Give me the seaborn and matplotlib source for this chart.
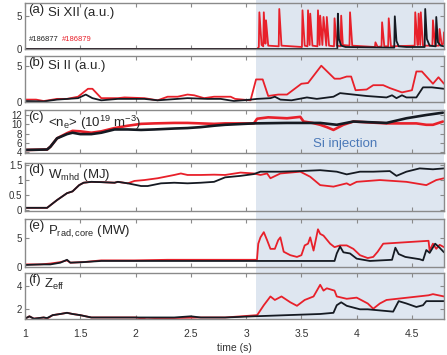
import matplotlib
matplotlib.use("Agg")
import matplotlib.pyplot as plt
import matplotlib.transforms as mtransforms
from matplotlib.patches import Rectangle
import seaborn as sns

# --------------------------------------------------
# Data
# --------------------------------------------------
shot_black = "#186877"
shot_red = "#186879"
t_start_si = 3.09
t_min, t_max = 1.0, 4.79

# (a) Si XII
a_red_t = [1.00, 3.10, 3.115, 3.12, 3.14, 3.155, 3.16, 3.175, 3.18, 3.20, 3.295, 3.30, 3.32,
           3.505, 3.51, 3.53, 3.555, 3.56, 3.575, 3.58, 3.60, 3.645, 3.65, 3.665, 3.67, 3.69,
           3.70, 3.725, 3.73, 3.75, 3.795, 3.80, 3.82, 3.855, 3.86, 3.875, 3.935, 3.94, 3.96,
           4.165, 4.17, 4.19, 4.225, 4.23, 4.25, 4.285, 4.29, 4.31, 4.525, 4.53, 4.55, 4.555,
           4.56, 4.575, 4.58, 4.60, 4.685, 4.69, 4.71, 4.745, 4.75, 4.77, 4.785, 4.79]
a_red_v = [0.0, 0.0, 0.3, 5.5, 0.6, 0.4, 5.5, 0.8, 4.3, 0.5, 0.4, 6.0, 0.5,
           0.3, 5.8, 0.5, 0.4, 5.8, 0.6, 5.3, 0.5, 0.4, 5.8, 0.6, 5.0, 0.6,
           4.8, 0.5, 4.8, 0.5, 0.4, 4.6, 0.5, 0.4, 5.0, 0.6, 0.5, 5.5, 0.5,
           0.3, 1.0, 0.3, 0.4, 4.0, 0.4, 0.4, 4.6, 0.4, 0.5, 5.5, 0.6, 0.6,
           5.3, 0.6, 5.5, 0.5, 0.5, 4.3, 0.5, 0.5, 3.0, 0.6, 0.8, 2.5]
a_blk_t = [1.00, 3.825, 3.83, 3.84, 3.86, 3.90, 4.34, 4.345, 4.36, 4.38, 4.45, 4.615,
           4.62, 4.635, 4.66, 4.715, 4.72, 4.735, 4.76, 4.79]
a_blk_v = [0.0, 0.0, 5.3, 1.5, 0.5, 0.3, 0.2, 4.9, 1.2, 0.4, 0.3, 0.3,
           6.0, 1.5, 0.5, 0.4, 4.8, 1.0, 0.5, 0.4]

# (b) Si II
b_red_t = [1.00, 1.10, 1.17, 1.29, 1.38, 1.48, 1.57, 1.61, 1.69, 1.84, 1.90, 2.08, 2.20,
           2.29, 2.38, 2.47, 2.53, 2.62, 2.71, 2.77, 2.86, 2.90, 3.04, 3.09, 3.15, 3.20,
           3.29, 3.37, 3.50, 3.56, 3.68, 3.80, 3.85, 3.91, 3.95, 3.99, 4.09, 4.15, 4.24,
           4.30, 4.41, 4.50, 4.54, 4.59, 4.69, 4.74, 4.79]
b_red_v = [0.3, 0.3, 0.1, 0.4, 0.4, 0.7, 1.8, 1.8, 0.5, 0.5, 0.6, 0.5, 0.2,
           0.7, 0.7, 1.0, 0.9, 0.5, 0.7, 0.7, 0.7, 0.4, 0.2, 3.1, 3.1, 0.8,
           1.0, 1.0, 2.5, 2.6, 5.0, 3.2, 3.2, 3.5, 3.5, 1.6, 1.7, 2.3, 2.3,
           1.9, 1.3, 1.6, 4.2, 4.2, 2.5, 3.4, 2.5]
b_blk_t = [1.00, 1.17, 1.29, 1.48, 1.55, 1.61, 1.69, 1.84, 1.93, 2.08, 2.20, 2.29, 2.47,
           2.65, 2.77, 2.89, 3.04, 3.10, 3.22, 3.26, 3.31, 3.41, 3.55, 3.64, 3.79, 3.85,
           3.97, 4.09, 4.27, 4.32, 4.36, 4.41, 4.45, 4.54, 4.60, 4.68, 4.79]
b_blk_v = [0.1, 0.05, 0.3, 0.5, 1.0, 0.5, 0.2, 0.4, 0.4, 0.4, 0.2, 0.3, 0.5,
           0.4, 0.4, 0.1, 0.3, 0.4, 0.5, 0.7, 0.3, 0.2, 0.6, 0.4, 0.7, 1.2,
           1.0, 0.8, 0.6, 0.9, 0.5, 0.9, 0.6, 0.6, 2.0, 2.0, 1.8]

# (c) line averaged density
c_red_t = [1.00, 1.20, 1.23, 1.29, 1.38, 1.43, 1.50, 1.60, 1.69, 1.81, 1.93, 2.05, 2.17,
           2.35, 2.47, 2.59, 2.71, 2.81, 3.07, 3.10, 3.20, 3.37, 3.49, 3.52, 3.60, 3.67,
           3.73, 3.79, 3.88, 3.97, 4.12, 4.27, 4.45, 4.54, 4.63, 4.69, 4.78]
c_red_v = [4.5, 4.6, 5.2, 7.0, 8.1, 8.6, 8.5, 8.2, 8.5, 9.2, 9.7, 10.1, 10.2,
           10.3, 10.3, 10.2, 10.1, 10.2, 10.2, 11.2, 11.5, 11.3, 11.6, 10.6, 10.3, 9.9,
           9.4, 8.8, 9.9, 10.6, 10.4, 10.2, 10.2, 10.2, 9.9, 9.9, 10.6]
c_blk_t = [1.00, 1.20, 1.23, 1.29, 1.38, 1.43, 1.50, 1.60, 1.69, 1.81, 1.93, 2.05, 2.17,
           2.35, 2.47, 2.59, 2.71, 2.81, 3.07, 3.37, 3.67, 3.82, 3.97, 4.27, 4.45, 4.63, 4.78]
c_blk_v = [4.5, 4.6, 5.2, 7.0, 7.9, 8.2, 7.9, 7.9, 8.2, 8.9, 8.9, 8.8, 8.9,
           9.1, 9.2, 9.4, 9.7, 9.9, 10.2, 10.3, 10.3, 9.9, 10.6, 10.3, 11.3, 12.0, 12.5]

# (d) W_mhd
d_red_t = [1.00, 1.20, 1.29, 1.38, 1.43, 1.49, 1.53, 1.60, 1.69, 1.81, 1.84, 1.93, 1.99,
           2.08, 2.20, 2.35, 2.41, 2.47, 2.59, 2.71, 2.81, 2.95, 3.07, 3.13, 3.19, 3.22,
           3.31, 3.49, 3.58, 3.67, 3.79, 3.91, 3.94, 4.00, 4.21, 4.45, 4.63, 4.72, 4.79]
d_red_v = [0.07, 0.07, 0.33, 0.56, 0.62, 0.83, 0.91, 0.94, 0.93, 0.91, 0.94, 0.89, 0.97,
           1.00, 1.06, 1.17, 1.22, 1.17, 1.17, 1.18, 1.17, 1.25, 1.22, 1.17, 1.22, 1.06,
           1.22, 1.28, 1.11, 0.83, 0.78, 0.89, 0.83, 0.94, 1.00, 0.94, 0.83, 1.00, 1.06]
d_blk_t = [1.00, 1.20, 1.29, 1.38, 1.43, 1.49, 1.53, 1.60, 1.69, 1.81, 1.84, 1.93, 2.05,
           2.11, 2.23, 2.35, 2.47, 2.59, 2.71, 2.81, 2.95, 3.07, 3.13, 3.31, 3.49, 3.67,
           3.82, 3.91, 4.03, 4.15, 4.30, 4.36, 4.45, 4.57, 4.69, 4.79]
d_blk_v = [0.07, 0.07, 0.33, 0.56, 0.62, 0.83, 0.91, 0.94, 0.93, 0.91, 0.94, 0.89, 0.80,
           0.80, 0.89, 0.91, 0.89, 0.91, 0.94, 1.09, 1.14, 1.20, 1.28, 1.28, 1.30, 1.33,
           1.28, 1.19, 1.28, 1.28, 1.30, 1.14, 1.28, 1.39, 1.36, 1.39]

# (e) P_rad,core
e_red_t = [1.00, 1.14, 1.23, 1.32, 1.38, 1.41, 1.53, 1.69, 1.99, 2.29, 2.59, 3.098,
           3.11, 3.13, 3.16, 3.19, 3.22, 3.26, 3.29, 3.31, 3.34, 3.40, 3.46, 3.50,
           3.53, 3.56, 3.58, 3.61, 3.65, 3.67, 3.70, 3.76, 3.80, 3.85, 3.91, 3.97,
           4.03, 4.10, 4.15, 4.19, 4.24, 4.65, 4.66, 4.69, 4.72, 4.75, 4.79]
e_red_v = [0.4, 0.4, 0.55, 0.8, 1.1, 0.7, 0.8, 1.1, 1.1, 1.2, 1.2, 1.2,
           4.0, 5.1, 6.0, 4.6, 3.1, 3.1, 4.6, 5.1, 2.6, 2.0, 1.7, 2.0,
           3.7, 4.0, 5.1, 2.8, 6.5, 5.7, 5.4, 4.0, 3.4, 3.7, 3.7, 3.1,
           2.0, 1.5, 1.7, 2.6, 4.0, 4.5, 2.8, 4.0, 3.1, 3.8, 3.4]
e_blk_t = [1.00, 1.14, 1.23, 1.32, 1.38, 1.41, 1.53, 1.69, 1.99, 2.29, 2.59, 3.10,
           3.50, 3.80, 3.82, 3.85, 3.88, 3.94, 4.00, 4.12, 4.32, 4.35, 4.38, 4.44,
           4.57, 4.60, 4.63, 4.66, 4.71, 4.75, 4.79]
e_blk_v = [0.3, 0.4, 0.4, 0.7, 1.2, 0.7, 0.8, 1.0, 1.0, 1.0, 1.0, 1.0,
           1.0, 1.0, 2.3, 3.5, 2.5, 2.3, 1.4, 1.0, 1.2, 3.3, 2.2, 1.7,
           1.3, 1.1, 2.9, 2.4, 4.0, 3.3, 2.5]

# (f) Z_eff
f_red_t = [1.00, 1.04, 1.08, 1.17, 1.20, 1.25, 1.32, 1.38, 1.43, 1.50, 1.60, 1.84, 2.00,
           2.10, 2.35, 2.59, 2.81, 3.10, 3.16, 3.22, 3.26, 3.32, 3.40, 3.46, 3.53, 3.61,
           3.67, 3.70, 3.73, 3.80, 3.82, 3.91, 4.00, 4.10, 4.15, 4.21, 4.27, 4.65, 4.69, 4.79]
f_red_v = [1.2, 1.4, 1.2, 1.3, 1.2, 1.5, 1.6, 1.7, 1.6, 1.5, 1.3, 1.3, 1.3,
           1.15, 1.25, 1.3, 1.3, 1.5, 2.35, 3.1, 2.8, 3.1, 2.6, 2.3, 2.8, 3.1,
           4.1, 3.6, 3.8, 3.6, 3.1, 2.9, 3.0, 2.5, 2.05, 2.5, 2.8, 3.2, 3.3, 3.1]
f_blk_t = [1.00, 1.04, 1.08, 1.17, 1.20, 1.25, 1.32, 1.38, 1.43, 1.50, 1.60, 2.00, 2.35,
           2.50, 2.59, 2.81, 3.07, 3.37, 3.67, 3.79, 3.82, 3.86, 3.91, 4.03, 4.10, 4.33,
           4.38, 4.45, 4.54, 4.60, 4.63, 4.79]
f_blk_v = [1.2, 1.4, 1.2, 1.3, 1.25, 1.5, 1.6, 1.7, 1.6, 1.5, 1.3, 1.3, 1.3,
           1.4, 1.3, 1.3, 1.4, 1.5, 1.6, 1.7, 2.35, 2.6, 2.3, 2.0, 2.0, 1.8,
           2.7, 2.5, 2.2, 2.35, 2.7, 2.7]

panel_tags = ["(a)", "(b)", "(c)", "(d)", "(e)", "(f)"]
panel_names = ["Si XII (a.u.)", "Si II (a.u.)",
               r"<n$_e$> (10$^{19}$ m$^{-3}$)", r"W$_{mhd}$ (MJ)",
               r"P$_{rad,core}$ (MW)", r"Z$_{eff}$"]
panel_ylims = [(0, 6.9), (-0.1, 6.35), (3.85, 13.07), (-0.02, 1.57), (-0.05, 8.2), (1.17, 5.11)]
panel_yticks = [[0, 5], [0, 5], [4, 6, 8, 10, 12], [0, 0.5, 1, 1.5], [0, 5], [2, 4]]
panel_yticklabels = [["0", "5"], ["0", "5"], ["4", "6", "8", "10", "12"],
                     ["0", "0.5", "1", "1.5"], ["0", "5"], ["2", "4"]]
x_ticks = [1, 1.5, 2, 2.5, 3, 3.5, 4, 4.5]
x_ticklabels = ["1", "1.5", "2", "2.5", "3", "3.5", "4", "4.5"]

series = [
    (a_red_t, a_red_v, a_blk_t, a_blk_v),
    (b_red_t, b_red_v, b_blk_t, b_blk_v),
    (c_red_t, c_red_v, c_blk_t, c_blk_v),
    (d_red_t, d_red_v, d_blk_t, d_blk_v),
    (e_red_t, e_red_v, e_blk_t, e_blk_v),
    (f_red_t, f_red_v, f_blk_t, f_blk_v),
]

# --------------------------------------------------
# Style
# --------------------------------------------------
sns.set_style("ticks")
plt.rcParams["font.family"] = ["Liberation Sans", "DejaVu Sans"]
plt.rcParams["mathtext.default"] = "regular"

RED = "#e8202a"
BLACK = "#151a22"
SPINE = "#8a8a8a"
SHADE = "#dee6f0"

# axes rectangles: [left, bottom, width, height] in figure fraction
left, width = 0.0559, 0.9374
rects = [
    [left, 0.8620, width, 0.1296],
    [left, 0.7113, width, 0.1310],
    [left, 0.5690, width, 0.1211],
    [left, 0.4070, width, 0.1338],
    [left, 0.2479, width, 0.1338],
    [left, 0.1014, width, 0.1296],
]

fig = plt.figure(figsize=(4.47, 3.55), dpi=100)
axes = []
for i, rect in enumerate(rects):
    ax = fig.add_axes(rect)
    ax.set_facecolor("none")
    red_t, red_v, blk_t, blk_v = series[i]
    lw = 1.9 if i == 2 else 1.3
    sns.lineplot(x=red_t, y=red_v, ax=ax, color=RED, lw=lw,
                 estimator=None, sort=False, legend=False)
    sns.lineplot(x=blk_t, y=blk_v, ax=ax, color=BLACK, lw=lw,
                 estimator=None, sort=False, legend=False)
    ax.set_xlim(t_min, t_max)
    ax.set_ylim(*panel_ylims[i])
    ax.set_yticks(panel_yticks[i])
    ax.set_yticklabels(panel_yticklabels[i])
    ax.set_xticks(x_ticks)
    if i == len(rects) - 1:
        ax.set_xticklabels(x_ticklabels)
        ax.set_xlabel("time (s)", fontsize=7.5, color="#333333", labelpad=3)
    else:
        ax.set_xticklabels([])
    ax.set_ylabel("")
    ax.tick_params(direction="in", top=True, right=True, length=3, width=0.8,
                   color=SPINE, labelcolor="#333333", pad=2)
    ax.tick_params(axis="y", labelsize=7)
    ax.tick_params(axis="x", labelsize=7.5, pad=7)
    for sp in ax.spines.values():
        sp.set_color(SPINE)
        sp.set_linewidth(1.0)
        sp.set_visible(True)
    ax.annotate(panel_tags[i], xy=(0, 1), xycoords="axes fraction",
                xytext=(2.5, -0.5), textcoords="offset points",
                ha="left", va="top", fontsize=9.5)
    ax.annotate(panel_names[i], xy=(0, 1), xycoords="axes fraction",
                xytext=(16.5 if i != 5 else 14, -3), textcoords="offset points",
                ha="left", va="top", fontsize=9.5)
    axes.append(ax)

# shot numbers in panel (a)
lbl = axes[0].annotate(shot_black, xy=(0, 0), xycoords="axes fraction",
                       xytext=(3, 4), textcoords="offset points",
                       ha="left", va="bottom", fontsize=5.5, color="#222222")
axes[0].annotate(shot_red, xy=(1, 0), xycoords=lbl,
                 xytext=(2, 0), textcoords="offset points",
                 ha="left", va="bottom", fontsize=5.5, color=RED)

# Si injection label
trans_c = mtransforms.blended_transform_factory(axes[2].transData, axes[2].transAxes)
axes[2].text(3.9, 0.2, "Si injection", transform=trans_c, ha="center", va="center",
             fontsize=9.5, color="#4a78b8")

# shaded injection window spanning all panels
trans_fig = mtransforms.blended_transform_factory(axes[-1].transData, fig.transFigure)
shade = Rectangle((t_start_si, rects[-1][1]), t_max - t_start_si, 1.0 - rects[-1][1],
                  transform=trans_fig, facecolor=SHADE, edgecolor="none", zorder=-1)
fig.patches.append(shade)

plt.savefig("out.png", dpi=100)
plt.close()
